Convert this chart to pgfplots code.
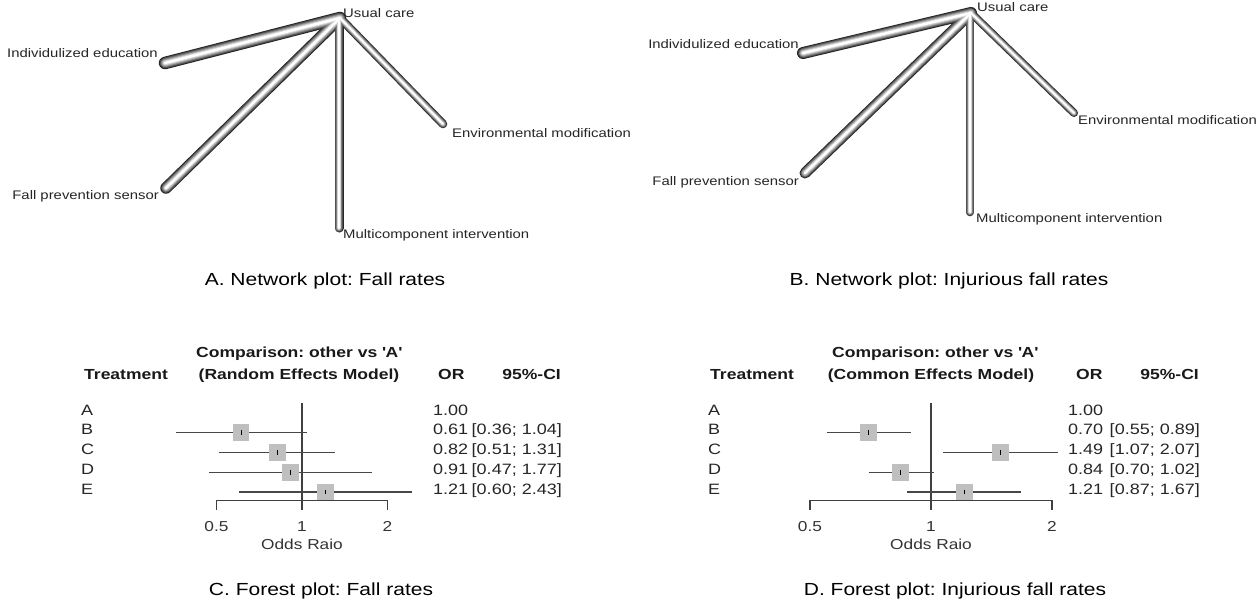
\documentclass[border=0pt]{standalone}
\usepackage{fontspec}
\setmainfont{Liberation Sans}[FakeStretch=1.2]
\usepackage{pgfplots}
\pgfplotsset{compat=1.18}
\frenchspacing

% network edges of panel A: #1 width factor, #2 colour
\newcommand\netA[2]{%
 \addplot[no marks, line cap=round, color=#2, line width=#1*12.5pt] coordinates {(340,18) (165,63)};
 \addplot[no marks, line cap=round, color=#2, line width=#1*11.5pt] coordinates {(340,18) (166,188)};
 \addplot[no marks, line cap=round, color=#2, line width=#1*9pt] coordinates {(339,18) (339,228)};
 \addplot[no marks, line cap=round, color=#2, line width=#1*8.5pt] coordinates {(340,18) (443,124)};
}
\newcommand\netB[2]{%
 \addplot[no marks, line cap=round, color=#2, line width=#1*12pt] coordinates {(971,13) (803,53)};
 \addplot[no marks, line cap=round, color=#2, line width=#1*11pt] coordinates {(971,13) (805,173)};
 \addplot[no marks, line cap=round, color=#2, line width=#1*8.5pt] coordinates {(970,13) (970,212)};
 \addplot[no marks, line cap=round, color=#2, line width=#1*8pt] coordinates {(971,13) (1074,113)};
}
\newcommand\tubes[1]{%
 #1{1}{black!85}
 #1{0.84}{black!68}
 #1{0.68}{black!50}
 #1{0.52}{black!33}
 #1{0.36}{black!16}
 #1{0.2}{white}
}

\tikzset{
 mynet/.style={font=\fontsize{12.4}{14}\selectfont, text=black!85, inner sep=0pt},
 myhdr/.style={font=\fontsize{14.6}{17}\selectfont\bfseries, text=black!90, inner sep=0pt},
 myrow/.style={font=\fontsize{15}{17}\selectfont, text=black!85, inner sep=0pt},
 mytck/.style={font=\fontsize{14.4}{17}\selectfont, text=black!80, inner sep=0pt},
 mycap/.style={font=\fontsize{17.5}{20}\selectfont, text=black, inner sep=0pt},
}
\pgfplotsset{
 ciline/.style={no marks, black!72, line width=1.3pt},
 frm/.style={no marks, black!75, line width=1.2pt},
 sqm/.style={only marks, mark=square*, mark size=7.8pt, mark options={fill=black!25, draw=black!25, line width=0pt}},
 estm/.style={only marks, mark=|, mark size=2.4pt, mark options={black, line width=1pt}},
}

\begin{document}
\begin{tikzpicture}
\useasboundingbox (0,0) rectangle (1257pt,-608pt);
\fill[white] (0,0) rectangle (1257pt,-608pt);

% ---------- network plots ----------
\begin{axis}[at={(0pt,0pt)}, anchor=north west, scale only axis,
  width=1257pt, height=608pt, xmin=0, xmax=1257, ymin=0, ymax=608,
  y dir=reverse, hide axis, clip=false]
\tubes{\netA}
\tubes{\netB}
\end{axis}

% ---------- forest plot C ----------
\begin{axis}[at={(216.5pt,-403.1pt)}, anchor=north west, scale only axis,
   width=171pt, height=108.6pt,
   xmode=log, log basis x=2, xmin=0.5, xmax=2, ymin=-0.5, ymax=5,
   y dir=reverse, hide axis, clip=false]
\addplot[frm] coordinates {(1,-0.5) (1,4.9)};
\addplot[frm] coordinates {(0.5,4.9) (0.5,4.45) (2,4.45) (2,4.9)};
\addplot[ciline] coordinates {(0.36,1) (1.04,1)};
\addplot[ciline] coordinates {(0.51,2) (1.31,2)};
\addplot[ciline] coordinates {(0.47,3) (1.77,3)};
\addplot[ciline] coordinates {(0.60,4) (2.43,4)};
\addplot[sqm] coordinates {(0.61,1) (0.82,2) (0.91,3) (1.21,4)};
\addplot[estm] coordinates {(0.61,1) (0.82,2) (0.91,3) (1.21,4)};
\node[mytck, anchor=mid] at (axis cs:0.5,5.87) {0.5};
\node[mytck, anchor=mid] at (axis cs:1,5.87) {1};
\node[mytck, anchor=mid] at (axis cs:2,5.87) {2};
\node[mytck, anchor=mid] at (axis cs:1,6.78) {Odds Raio};
\end{axis}

% ---------- forest plot D ----------
\begin{axis}[at={(810pt,-403.1pt)}, anchor=north west, scale only axis,
   width=242pt, height=108.6pt,
   xmode=log, log basis x=2, xmin=0.5, xmax=2, ymin=-0.5, ymax=5,
   y dir=reverse, hide axis, clip=false]
\addplot[frm] coordinates {(1,-0.5) (1,4.9)};
\addplot[frm] coordinates {(0.5,4.9) (0.5,4.45) (2,4.45) (2,4.9)};
\addplot[ciline] coordinates {(0.55,1) (0.89,1)};
\addplot[ciline] coordinates {(1.07,2) (2.07,2)};
\addplot[ciline] coordinates {(0.70,3) (1.02,3)};
\addplot[ciline] coordinates {(0.87,4) (1.67,4)};
\addplot[sqm] coordinates {(0.70,1) (1.49,2) (0.84,3) (1.21,4)};
\addplot[estm] coordinates {(0.70,1) (1.49,2) (0.84,3) (1.21,4)};
\node[mytck, anchor=mid] at (axis cs:0.5,5.87) {0.5};
\node[mytck, anchor=mid] at (axis cs:1,5.87) {1};
\node[mytck, anchor=mid] at (axis cs:2,5.87) {2};
\node[mytck, anchor=mid] at (axis cs:1,6.78) {Odds Raio};
\end{axis}

% ---------- network labels ----------
\node[mynet, anchor=mid west] at (343pt,-15pt) {Usual care};
\node[mynet, anchor=mid east] at (158pt,-55pt) {Individulized education};
\node[mynet, anchor=mid east] at (159pt,-197pt) {Fall prevention sensor};
\node[mynet, anchor=mid west] at (343pt,-236pt) {Multicomponent intervention};
\node[mynet, anchor=mid west] at (452pt,-135pt) {Environmental modification};

\node[mynet, anchor=mid west] at (977pt,-9pt) {Usual care};
\node[mynet, anchor=mid east] at (799pt,-46pt) {Individulized education};
\node[mynet, anchor=mid east] at (799pt,-183pt) {Fall prevention sensor};
\node[mynet, anchor=mid west] at (976pt,-220pt) {Multicomponent intervention};
\node[mynet, anchor=mid west] at (1078pt,-122pt) {Environmental modification};

% ---------- captions ----------
\node[mycap, anchor=mid] at (325pt,-283pt) {A. Network plot: Fall rates};
\node[mycap, anchor=mid] at (949pt,-283pt) {B. Network plot: Injurious fall rates};
\node[mycap, anchor=mid] at (321pt,-593pt) {C. Forest plot: Fall rates};
\node[mycap, anchor=mid] at (955pt,-593pt) {D. Forest plot: Injurious fall rates};

% ---------- forest C text ----------
\node[myhdr, anchor=mid] at (299pt,-355pt) {Comparison: other vs \textquotesingle A\textquotesingle};
\node[myhdr, anchor=mid] at (299pt,-377pt) {(Random Effects Model)};
\node[myhdr, anchor=mid west] at (84pt,-377pt) {Treatment};
\node[myhdr, anchor=mid west] at (438pt,-377pt) {OR};
\node[myhdr, anchor=mid east] at (561pt,-377pt) {95\%-CI};
\node[myrow, anchor=mid west] at (81pt,-413pt) {A};
\node[myrow, anchor=mid west] at (81pt,-432pt) {B};
\node[myrow, anchor=mid west] at (81pt,-452pt) {C};
\node[myrow, anchor=mid west] at (81pt,-472pt) {D};
\node[myrow, anchor=mid west] at (81pt,-492pt) {E};
\node[myrow, anchor=mid west] at (433pt,-413pt) {1.00};
\node[myrow, anchor=mid west] at (433pt,-432pt) {0.61};
\node[myrow, anchor=mid west] at (433pt,-452pt) {0.82};
\node[myrow, anchor=mid west] at (433pt,-472pt) {0.91};
\node[myrow, anchor=mid west] at (433pt,-492pt) {1.21};
\node[myrow, anchor=mid east] at (562pt,-432pt) {[0.36; 1.04]};
\node[myrow, anchor=mid east] at (562pt,-452pt) {[0.51; 1.31]};
\node[myrow, anchor=mid east] at (562pt,-472pt) {[0.47; 1.77]};
\node[myrow, anchor=mid east] at (562pt,-492pt) {[0.60; 2.43]};

% ---------- forest D text ----------
\node[myhdr, anchor=mid] at (935pt,-355pt) {Comparison: other vs \textquotesingle A\textquotesingle};
\node[myhdr, anchor=mid] at (931pt,-377pt) {(Common Effects Model)};
\node[myhdr, anchor=mid west] at (710pt,-377pt) {Treatment};
\node[myhdr, anchor=mid west] at (1076pt,-377pt) {OR};
\node[myhdr, anchor=mid east] at (1199pt,-377pt) {95\%-CI};
\node[myrow, anchor=mid west] at (708pt,-413pt) {A};
\node[myrow, anchor=mid west] at (708pt,-432pt) {B};
\node[myrow, anchor=mid west] at (708pt,-452pt) {C};
\node[myrow, anchor=mid west] at (708pt,-472pt) {D};
\node[myrow, anchor=mid west] at (708pt,-492pt) {E};
\node[myrow, anchor=mid west] at (1068pt,-413pt) {1.00};
\node[myrow, anchor=mid west] at (1068pt,-432pt) {0.70};
\node[myrow, anchor=mid west] at (1068pt,-452pt) {1.49};
\node[myrow, anchor=mid west] at (1068pt,-472pt) {0.84};
\node[myrow, anchor=mid west] at (1068pt,-492pt) {1.21};
\node[myrow, anchor=mid east] at (1200pt,-432pt) {[0.55; 0.89]};
\node[myrow, anchor=mid east] at (1200pt,-452pt) {[1.07; 2.07]};
\node[myrow, anchor=mid east] at (1200pt,-472pt) {[0.70; 1.02]};
\node[myrow, anchor=mid east] at (1200pt,-492pt) {[0.87; 1.67]};
\end{tikzpicture}
\end{document}
